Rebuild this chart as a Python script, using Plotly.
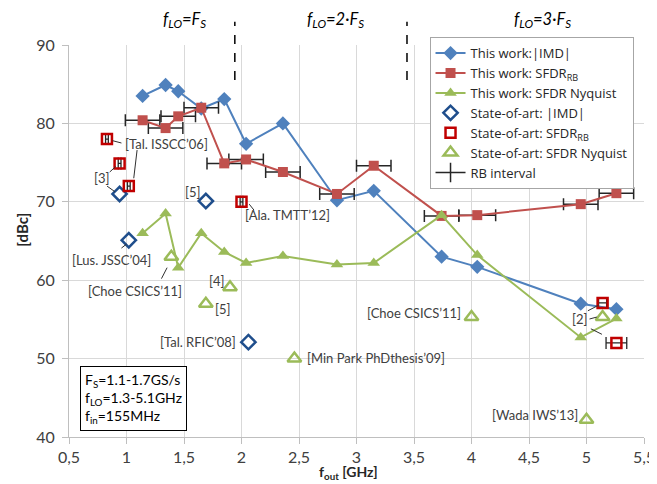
import plotly.graph_objects as go

# ---------------- data ----------------
fout_this = [1.14, 1.34, 1.45, 1.65, 1.85, 2.04, 2.36, 2.83, 3.15, 3.74, 4.05, 4.95, 5.26]
imd_this = [83.5, 84.9, 84.1, 81.9, 83.1, 77.4, 80.0, 70.2, 71.4, 63.0, 61.7, 57.0, 56.3]
sfdr_rb_this = [80.4, 79.4, 80.9, 82.0, 74.9, 75.4, 73.8, 71.0, 74.6, 68.2, 68.3, 69.7, 71.1]
rb_half_this = [0.15, 0.15, 0.15, 0.15, 0.15, 0.15, 0.15, 0.15, 0.15, 0.15, 0.16, 0.15, 0.15]
sfdr_nyq_this = [66.0, 68.5, 61.6, 66.0, 63.6, 62.2, 63.1, 62.0, 62.2, 68.3, 63.2, 52.7, 55.1]

soa_imd_f = [0.94, 1.02, 1.69, 2.06]
soa_imd = [71.0, 65.1, 70.1, 52.1]
soa_rb_f = [0.83, 0.94, 1.02, 2.00, 5.14, 5.26]
soa_rb = [78.0, 74.9, 72.0, 70.0, 57.1, 52.0]
soa_rb_half = [0.012, 0.012, 0.012, 0.012, 0.035, 0.09]
soa_nyq_f = [1.39, 1.69, 1.90, 2.46, 4.00, 5.00, 5.14]
soa_nyq = [63.0, 57.0, 59.1, 50.0, 55.3, 42.2, 55.3]

x_ticks = [0.5, 1, 1.5, 2, 2.5, 3, 3.5, 4, 4.5, 5, 5.5]
y_ticks = [40, 50, 60, 70, 80, 90]

# label texts and anchors (data coords)
ref_labels = [
    ("[Tal. ISSCC’06]", 0.967, 77.4, "left"),
    ("[3]", 0.789, 73.0, "center"),
    ("[5]", 1.577, 71.3, "center"),
    ("[Ala. TMTT’12]", 2.012, 68.3, "left"),
    ("[Lus. JSSC’04]", 0.872, 62.6, "center"),
    ("[Choe CSICS’11]", 1.072, 58.6, "center"),
    ("[4]", 1.786, 59.9, "center"),
    ("[5]", 1.835, 56.3, "center"),
    ("[Tal. RFIC’08]", 1.968, 52.1, "right"),
    ("[Min Park PhDthesis’09]", 2.551, 50.1, "left"),
    ("[Choe CSICS’11]", 3.926, 55.8, "right"),
    ("[2]", 4.945, 55.05, "center"),
    ("[Wada IWS’13]", 4.945, 42.8, "right"),
]
leaders = [
    (0.878, 77.8, 0.956, 77.5),
    (1.092, 76.6, 1.063, 73.0),
    (0.854, 73.8, 0.906, 74.5),
    (0.831, 72.0, 0.898, 71.3),
    (2.067, 69.7, 2.108, 68.95),
    (0.956, 64.1, 1.0, 64.6),
    (1.304, 60.2, 1.353, 61.6),
    (5.012, 56.1, 5.104, 56.8),
    (5.026, 55.05, 5.09, 55.3),
    (5.038, 53.8, 5.134, 53.1),
]

BLUE = "#4f81bd"
RED = "#c0504d"
GREEN = "#9bbb59"
NAVY = "#1f4e8c"
DRED = "#c00000"
FONT = "Lato"
TXT = "#404040"

fig = go.Figure()

fig.add_trace(go.Scatter(
    x=fout_this, y=imd_this, mode="lines+markers", name="This work:|IMD|",
    line=dict(color=BLUE, width=2),
    marker=dict(symbol="diamond", size=11, color=BLUE)))
fig.add_trace(go.Scatter(
    x=fout_this, y=sfdr_rb_this, mode="lines+markers", name="This work: SFDR<sub>RB</sub>",
    line=dict(color=RED, width=2),
    marker=dict(symbol="square", size=10, color=RED),
    error_x=dict(type="data", array=rb_half_this, color="#262626", thickness=1.5, width=6)))
fig.add_trace(go.Scatter(
    x=fout_this, y=sfdr_nyq_this, mode="lines+markers", name="This work: SFDR Nyquist",
    line=dict(color=GREEN, width=2),
    marker=dict(symbol="triangle-up", size=11, color=GREEN)))
fig.add_trace(go.Scatter(
    x=soa_imd_f, y=soa_imd, mode="markers", name="State-of-art: |IMD|",
    marker=dict(symbol="diamond-open", size=11, color=NAVY, line=dict(width=2.5, color=NAVY))))
fig.add_trace(go.Scatter(
    x=soa_rb_f, y=soa_rb, mode="markers", name="State-of-art: SFDR<sub>RB</sub>",
    marker=dict(symbol="square-open", size=10, color=DRED, line=dict(width=2.5, color=DRED)),
    error_x=dict(type="data", array=soa_rb_half, color="#262626", thickness=1.3, width=6)))
fig.add_trace(go.Scatter(
    x=soa_nyq_f, y=soa_nyq, mode="markers", name="State-of-art: SFDR Nyquist",
    marker=dict(symbol="triangle-up-open", size=12, color=GREEN, line=dict(width=2.5, color=GREEN))))
fig.add_trace(go.Scatter(
    x=[None], y=[None], mode="lines+markers", name="RB interval",
    line=dict(color="#262626", width=1.5),
    marker=dict(symbol="line-ns-open", size=14, color="#262626", line=dict(width=1.5, color="#262626"))))

annotations = []
for text, x, y, anc in ref_labels:
    annotations.append(dict(x=x, y=y, xref="x", yref="y", text=text, showarrow=False,
                            xanchor=anc, yanchor="middle", font=dict(family=FONT, size=13, color=TXT)))

# top region arrows (double headed)
arrow_spans = [(1.057, 1.935), (1.96, 3.42), (3.455, 5.397)]
for x0, x1 in arrow_spans:
    annotations.append(dict(x=x1, y=91.8, ax=x0, ay=91.8, xref="x", yref="y", axref="x", ayref="y",
                            text=" ", font=dict(size=1), borderpad=0,
                            showarrow=True, arrowhead=2, arrowside="end+start",
                            arrowsize=1.1, arrowwidth=2, arrowcolor="black", standoff=0, startstandoff=0))
top_labels = [
    ("<i>f</i><sub><i>LO</i></sub><i>=F</i><sub><i>S</i></sub>", 1.507),
    ("<i>f</i><sub><i>LO</i></sub><i>=2·F</i><sub><i>S</i></sub>", 2.813),
    ("<i>f</i><sub><i>LO</i></sub><i>=3·F</i><sub><i>S</i></sub>", 4.62),
]
for t, x in top_labels:
    annotations.append(dict(x=x, y=1.066, xref="x", yref="paper", text=t, showarrow=False,
                            xanchor="center", yanchor="middle", font=dict(family=FONT, size=16.5, color="black")))

# info box
annotations.append(dict(x=0.0186, y=0.015, xref="paper", yref="paper", xanchor="left", yanchor="bottom",
                        text="F<sub>S</sub>=1.1-1.7GS/s<br>f<sub>LO</sub>=1.3-5.1GHz<br>f<sub>in</sub>=155MHz",
                        align="left", showarrow=False, bordercolor="black", borderwidth=1, borderpad=4,
                        bgcolor="white", font=dict(family=FONT, size=14, color="black")))
# axis titles
annotations.append(dict(x=-0.0823, y=0.528, xref="paper", yref="paper", text="<b>[dBc]</b>", textangle=-90,
                        xanchor="center", yanchor="middle",
                        showarrow=False, font=dict(family=FONT, size=15, color="#262626")))
annotations.append(dict(x=0.4856, y=-0.0905, xref="paper", yref="paper", text="<b>f<sub>out</sub> [GHz]</b>",
                        xanchor="center", yanchor="middle",
                        showarrow=False, font=dict(family=FONT, size=14, color="#262626")))

shapes = []
for x0, y0, x1, y1 in leaders:
    shapes.append(dict(type="line", xref="x", yref="y", x0=x0, y0=y0, x1=x1, y1=y1,
                       line=dict(color="#303030", width=1)))
for xd in [1.942, 3.439]:
    shapes.append(dict(type="line", xref="x", yref="paper", x0=xd, x1=xd, y0=0.911, y1=1.059,
                       line=dict(color="black", width=1.5, dash="dash")))

# page body has an 8px default margin -> figure is sized/margined to compensate
fig.update_layout(
    width=649, height=476,
    margin=dict(l=61, r=13, t=37, b=47, autoexpand=False),
    paper_bgcolor="white", plot_bgcolor="white",
    separators=",.",
    font=dict(family=FONT, size=13, color=TXT),
    showlegend=True,
    legend=dict(x=0.627, y=1.02, xanchor="left", yanchor="top", bgcolor="white",
                bordercolor="#a6a6a6", borderwidth=1, font=dict(family="Open Sans", size=13, color="#262626"),
                itemwidth=30, tracegroupgap=0),
    annotations=annotations,
    shapes=shapes,
    xaxis=dict(range=[0.5, 5.5], tickvals=x_ticks, showgrid=True, gridcolor="#d9d9d9", gridwidth=1,
               showline=True, linecolor="#bfbfbf", ticks="outside", ticklen=6, tickcolor="#bfbfbf",
               ticklabelstandoff=0,
               zeroline=False, tickfont=dict(family=FONT, size=16, color=TXT)),
    yaxis=dict(range=[40, 90], tickvals=y_ticks, showgrid=True, gridcolor="#d9d9d9", gridwidth=1,
               showline=True, linecolor="#bfbfbf", ticks="outside", ticklen=6, tickcolor="#bfbfbf",
               ticklabelstandoff=4,
               zeroline=False, tickfont=dict(family=FONT, size=16, color=TXT)),
)

fig.write_html("out.html")
